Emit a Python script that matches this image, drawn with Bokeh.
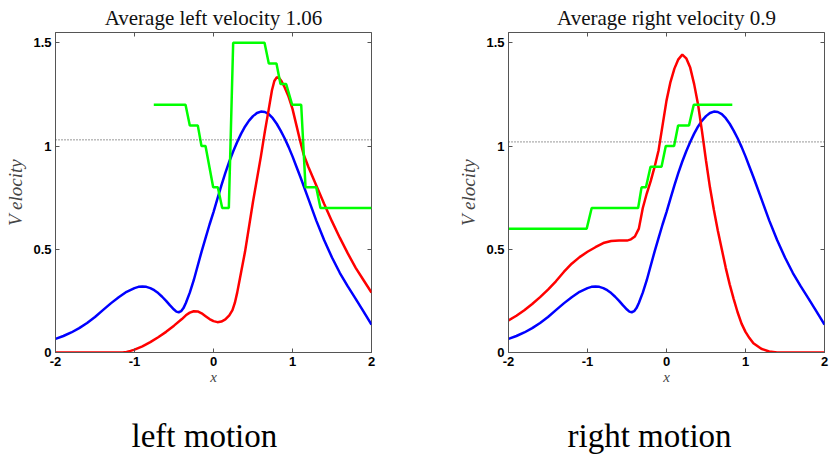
from bokeh.plotting import figure
from bokeh.models import Range1d, LinearAxis, FixedTicker, Title, Span
from bokeh.layouts import row
from bokeh.embed import file_html
from bokeh.resources import INLINE

# ---- data -------------------------------------------------------------
x_ticks = [-2, -1, 0, 1, 2]
x_tick_labels = {-2: "-2", -1: "-1", 0: "0", 1: "1", 2: "2"}
y_ticks = [0, 0.5, 1, 1.5]
y_tick_labels = {0: "0", 0.5: "0.5", 1: "1", 1.5: "1.5"}

# blue profile (same in both panels)
blue_x = [-2.0, -1.9, -1.8, -1.7, -1.6, -1.5, -1.4, -1.3, -1.2, -1.1, -1.0, -0.95,
          -0.9, -0.85, -0.8, -0.75, -0.7, -0.65, -0.6, -0.55, -0.5, -0.47, -0.44, -0.41,
          -0.38, -0.35, -0.3, -0.25, -0.2, -0.15, -0.1, -0.05, 0.0, 0.05, 0.1, 0.15,
          0.2, 0.25, 0.3, 0.35, 0.4, 0.45, 0.5, 0.55, 0.6, 0.65, 0.7, 0.75, 0.8, 0.85,
          0.9, 0.95, 1.0, 1.05, 1.1, 1.2, 1.3, 1.4, 1.5, 1.6, 1.7, 1.8, 1.9, 2.0]
blue_y = [0.066, 0.08, 0.097, 0.118, 0.143, 0.172, 0.205, 0.238, 0.268, 0.294, 0.312, 0.318,
          0.32, 0.318, 0.312, 0.302, 0.288, 0.27, 0.25, 0.228, 0.208, 0.198, 0.195, 0.2,
          0.215, 0.24, 0.29, 0.35, 0.42, 0.49, 0.555, 0.62, 0.68, 0.745, 0.81, 0.87,
          0.925, 0.975, 1.02, 1.06, 1.095, 1.123, 1.145, 1.16, 1.167, 1.165, 1.155, 1.135, 1.108, 1.075,
          1.038, 0.996, 0.95, 0.9, 0.85, 0.745, 0.64, 0.545, 0.46, 0.385, 0.32, 0.26, 0.198, 0.135]

# left motion
left_red_x = [-2.0, -1.15, -1.1, -1.05, -1.0, -0.9, -0.8, -0.7, -0.6, -0.5, -0.4, -0.35,
              -0.3, -0.25, -0.2, -0.15, -0.1, -0.05, 0.0, 0.05, 0.1, 0.15, 0.2, 0.24,
              0.27, 0.3, 0.35, 0.4, 0.5, 0.6, 0.65, 0.7, 0.74, 0.77, 0.8, 0.83, 0.86,
              0.9, 0.95, 1.0, 1.05, 1.1, 1.14, 1.17, 1.2, 1.3, 1.4, 1.5, 1.6, 1.7, 1.8,
              1.9, 2.0]
left_red_y = [0.0, 0.0, 0.003, 0.008, 0.014, 0.03, 0.05, 0.074, 0.1, 0.13, 0.162, 0.18,
              0.193, 0.2, 0.199, 0.19, 0.176, 0.162, 0.152, 0.147, 0.15, 0.16, 0.18, 0.205,
              0.24, 0.29, 0.39, 0.49, 0.73, 0.95, 1.07, 1.18, 1.27, 1.315, 1.333, 1.33, 1.315,
              1.285, 1.24, 1.18, 1.1, 1.02, 0.96, 0.93, 0.9, 0.81, 0.72, 0.635, 0.555, 0.48, 0.41,
              0.35, 0.29]
left_green_x = [-0.756, -0.354, -0.30, -0.199, -0.152, -0.101, -0.004, 0.055, 0.11, 0.194,
                0.249, 0.646, 0.70, 0.797, 0.848, 0.92, 0.996, 1.11, 1.165, 1.30, 1.354, 2.0]
left_green_y = [1.2, 1.2, 1.1, 1.1, 1.0, 1.0, 0.8, 0.8, 0.7, 0.7,
                1.5, 1.5, 1.4, 1.4, 1.3, 1.3, 1.2, 1.2, 0.8, 0.8, 0.7, 0.7]
left_dotted = 1.03

# right motion
right_red_x = [-2.0, -1.9, -1.8, -1.7, -1.6, -1.5, -1.4, -1.3, -1.2, -1.1, -1.0, -0.9,
               -0.8, -0.7, -0.6, -0.5, -0.45, -0.4, -0.35, -0.3, -0.25, -0.2, -0.15, -0.1,
               -0.05, 0.0, 0.05, 0.1, 0.15, 0.2, 0.25, 0.3, 0.35, 0.4, 0.45, 0.5, 0.55,
               0.6, 0.65, 0.7, 0.75, 0.8, 0.85, 0.9, 0.95, 1.0, 1.05, 1.1, 1.2, 1.3, 1.4, 2.0]
right_red_y = [0.155, 0.178, 0.205, 0.235, 0.268, 0.305, 0.345, 0.39, 0.43, 0.462, 0.488, 0.51,
               0.53, 0.54, 0.542, 0.542, 0.548, 0.562, 0.6, 0.7, 0.77, 0.83, 0.9, 0.98,
               1.1, 1.22, 1.31, 1.375, 1.42, 1.443, 1.425, 1.38, 1.3, 1.2, 1.07, 0.93, 0.8,
               0.69, 0.59, 0.5, 0.41, 0.33, 0.26, 0.195, 0.14, 0.1, 0.07, 0.045, 0.018, 0.005, 0.0, 0.0]
right_green_x = [-2.0, -1.01, -0.947, -0.359, -0.316, -0.26, -0.202, -0.063, -0.009, 0.096,
                 0.147, 0.285, 0.345, 0.833]
right_green_y = [0.6, 0.6, 0.7, 0.7, 0.8, 0.8, 0.9, 0.9, 1.0, 1.0,
                 1.1, 1.1, 1.2, 1.2]
right_dotted = 1.02

FRAME = "#555555"
SERIF = "Liberation Serif"


def make_panel(title, caption, red_x, red_y, green_x, green_y, level,
               border_left, border_right, caption_offset):
    head = Title(text=title, align="center", text_font=SERIF, text_font_size="21px",
                 text_font_style="normal", text_color="#111111", standoff=5)
    p = figure(title=head, frame_width=316, frame_height=320,
               min_border_left=border_left, min_border_right=border_right,
               min_border_top=32, min_border_bottom=5,
               x_range=Range1d(-2, 2), y_range=Range1d(0, 1.55),
               output_backend="svg", toolbar_location=None,
               x_axis_type=None, y_axis_type=None)
    p.background_fill_color = "white"
    p.border_fill_color = "white"
    p.outline_line_color = FRAME
    p.outline_line_width = 1
    p.xgrid.visible = False
    p.ygrid.visible = False

    xb = LinearAxis(ticker=FixedTicker(ticks=x_ticks), major_label_overrides=x_tick_labels,
                    axis_label="x", axis_label_text_font=SERIF,
                    axis_label_text_font_style="italic", axis_label_text_font_size="15px",
                    axis_label_standoff=0)
    yl = LinearAxis(ticker=FixedTicker(ticks=y_ticks), major_label_overrides=y_tick_labels,
                    axis_label="V elocity", axis_label_text_font=SERIF,
                    axis_label_text_font_style="italic", axis_label_text_font_size="19px",
                    axis_label_standoff=4)
    for ax in (xb, yl):
        ax.major_tick_in = 4
        ax.major_tick_out = 0
        ax.minor_tick_line_color = None
        ax.axis_line_color = FRAME
        ax.major_tick_line_color = FRAME
        ax.major_label_text_font = "Liberation Sans"
        ax.major_label_text_font_style = "bold"
        ax.major_label_text_font_size = "13px"
        ax.major_label_text_color = "black"
        ax.major_label_standoff = 4
    p.add_layout(xb, "below")
    p.add_layout(yl, "left")

    # mirrored tick marks on the top and right edges of the frame
    xt = LinearAxis(ticker=FixedTicker(ticks=x_ticks))
    yr = LinearAxis(ticker=FixedTicker(ticks=y_ticks))
    for ax in (xt, yr):
        ax.major_tick_in = 4
        ax.major_tick_out = 0
        ax.minor_tick_line_color = None
        ax.axis_line_color = None
        ax.major_tick_line_color = FRAME
        ax.major_label_text_color = None
        ax.major_label_text_font_size = "0px"
        ax.major_label_standoff = 0
    p.add_layout(xt, "above")
    p.add_layout(yr, "right")

    p.add_layout(Span(location=level, dimension="width", line_color="#333333",
                      line_width=1, line_dash="1 2"))

    p.line(blue_x, blue_y, line_color="#0000ff", line_width=2.5)
    p.line(red_x, red_y, line_color="#ff0000", line_width=2.5)
    p.line(green_x, green_y, line_color="#00ff00", line_width=2.5)

    cap = Title(text=caption, align="left", offset=caption_offset,
                text_font=SERIF, text_font_size="33px", text_font_style="normal",
                text_color="black", standoff=57)
    p.add_layout(cap, "below")
    return p


left = make_panel("Average left velocity 1.06", "left motion",
                  left_red_x, left_red_y, left_green_x, left_green_y, left_dotted,
                  55, 43, 76)
right = make_panel("Average right velocity 0.9", "right motion",
                   right_red_x, right_red_y, right_green_x, right_green_y, right_dotted,
                   94, 5, 59)

layout = row(left, right, spacing=0)
open("out.html", "w").write(file_html(layout, INLINE))
